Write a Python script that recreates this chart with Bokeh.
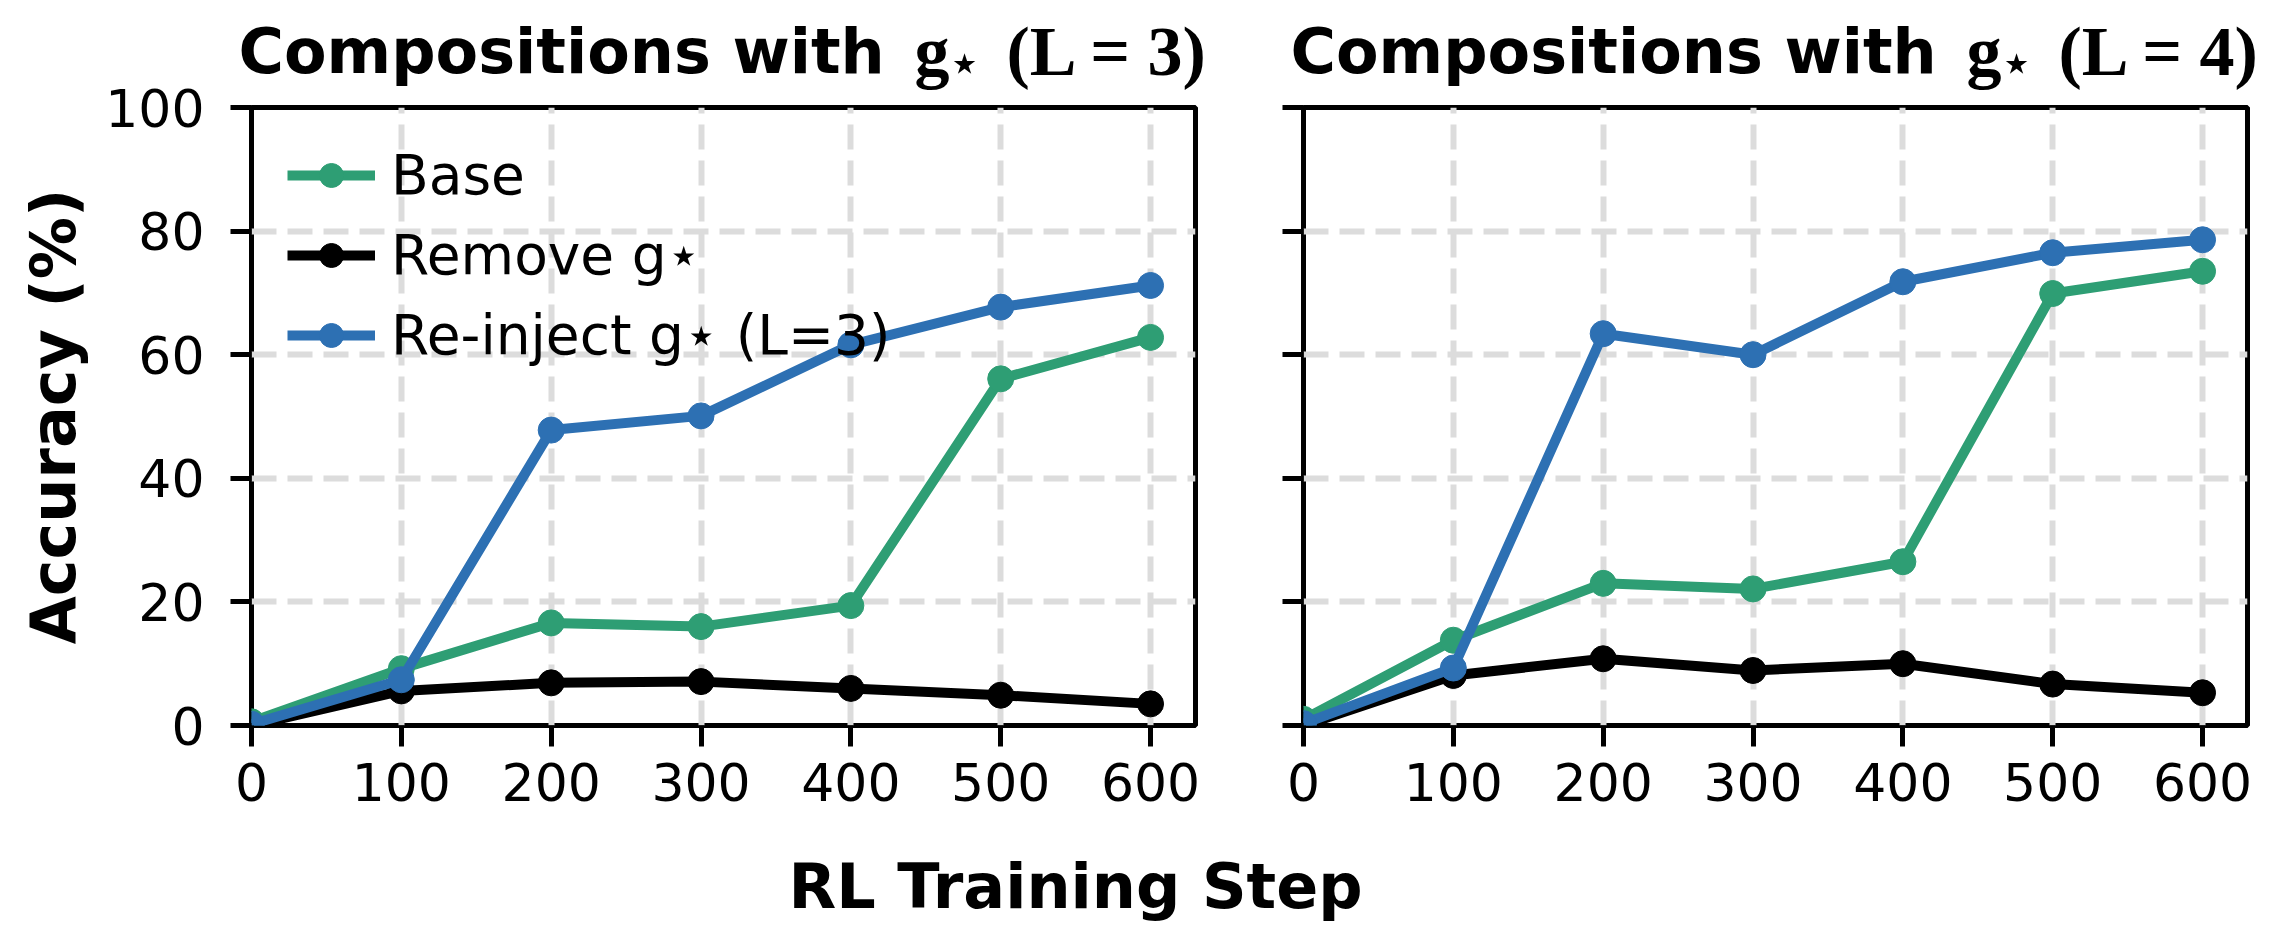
from bokeh.plotting import figure
from bokeh.models import Range1d, Label, Legend, LegendItem, FixedTicker
from bokeh.layouts import column, row
from bokeh.embed import file_html
from bokeh.resources import INLINE

# ---------------- data ----------------
steps = [0, 100, 200, 300, 400, 500, 600]
y_ticks = [0, 20, 40, 60, 80, 100]

base_l3 = [0.6, 9.2, 16.6, 16.0, 19.4, 56.1, 62.8]
remove_l3 = [0.0, 5.6, 6.9, 7.1, 6.0, 4.9, 3.5]
reinject_l3 = [0.2, 7.4, 47.8, 50.1, 61.6, 67.7, 71.2]

base_l4 = [1.0, 13.8, 23.0, 22.1, 26.5, 69.9, 73.5]
remove_l4 = [0.0, 8.1, 10.8, 8.9, 10.0, 6.7, 5.3]
reinject_l4 = [0.3, 9.3, 63.4, 60.0, 71.8, 76.5, 78.6]

series_labels = ["Base", "Remove g\u22c6", "Re-inject g\u22c6 (L=3)"]
panel_L = ["3", "4"]
x_label = "RL Training Step"
y_label = "Accuracy (%)"

GREEN = "#2e9e74"
BLACK = "#000000"
BLUE = "#2d70b3"

W = 2279
TOP_H = 100
OVERLAP = 30
FRAME_W = 944
FIG_H = 780
BOTTOM_H = 948 - TOP_H + OVERLAP - FIG_H


def make_panel(base, remove, reinject, left_border, right_border, first):
    p = figure(width=left_border + FRAME_W + right_border, height=FIG_H,
               x_range=Range1d(0, 630), y_range=Range1d(0, 100),
               output_backend="svg", toolbar_location=None,
               min_border_left=left_border, min_border_right=right_border,
               min_border_top=37, min_border_bottom=125)
    p.background_fill_color = "white"
    p.border_fill_alpha = 0
    p.outline_line_color = "black"
    p.outline_line_width = 5

    for ax in (p.xaxis[0], p.yaxis[0]):
        ax.axis_line_color = None
        ax.major_tick_out = 21
        ax.major_tick_in = 0
        ax.minor_tick_line_color = None
        ax.major_tick_line_width = 5
        ax.major_tick_line_color = "black"
        ax.major_label_text_font = "DejaVu Sans"
        ax.major_label_text_font_size = "52px"
        ax.major_label_text_color = "black"
    p.xaxis.ticker = FixedTicker(ticks=steps)
    p.yaxis.ticker = FixedTicker(ticks=y_ticks)
    p.xaxis.major_label_standoff = 16
    if first:
        p.yaxis.major_label_standoff = 26
        p.yaxis.axis_label = y_label
        p.yaxis.axis_label_text_font = "DejaVu Sans"
        p.yaxis.axis_label_text_font_style = "bold"
        p.yaxis.axis_label_text_font_size = "62px"
        p.yaxis.axis_label_text_color = "black"
        p.yaxis.axis_label_standoff = 12
    else:
        p.yaxis.major_label_overrides = {t: "" for t in y_ticks}
        p.yaxis.major_label_standoff = 0

    for g in (p.xgrid[0], p.ygrid[0]):
        g.grid_line_color = "#dcdcdc"
        g.grid_line_width = 6
        g.grid_line_dash = "25 11"

    items = []
    for lab, vals, col in zip(series_labels, (base, remove, reinject), (GREEN, BLACK, BLUE)):
        ln = p.line(steps, vals, line_width=10, line_color=col)
        sc = p.scatter(steps, vals, size=26, fill_color=col, line_color=col)
        items.append(LegendItem(label=lab, renderers=[ln, sc]))

    if first:
        leg = Legend(items=items, location="top_left")
        leg.border_line_color = None
        leg.background_fill_alpha = 0
        leg.label_text_font = "DejaVu Sans"
        leg.label_text_font_size = "55px"
        leg.label_text_color = "black"
        leg.glyph_width = 88
        leg.glyph_height = 60
        leg.label_height = 60
        leg.spacing = 16
        leg.label_standoff = 16
        leg.padding = 20
        leg.margin = 36
        p.add_layout(leg)
    return p


p1 = make_panel(base_l3, remove_l3, reinject_l3, 251, 54, True)
p2 = make_panel(base_l4, remove_l4, reinject_l4, 54, 32, False)

# ---- title strip (sans bold words + serif bold math part) ----
p0 = figure(width=W, height=TOP_H, x_range=Range1d(0, W), y_range=Range1d(0, TOP_H),
            output_backend="svg", toolbar_location=None, min_border=0,
            x_axis_type=None, y_axis_type=None)
p0.outline_line_color = None
p0.background_fill_color = "white"
p0.border_fill_color = "white"
p0.margin = (0, 0, -OVERLAP, 0)
for L, x0 in zip(panel_L, (238, 238 + 1052)):
    p0.add_layout(Label(x=x0, y=49, text="Compositions with",
                        text_font="DejaVu Sans", text_font_style="bold", text_font_size="62px",
                        text_color="black", text_align="left", text_baseline="alphabetic"))
    p0.add_layout(Label(x=x0 + 676, y=49, text="g",
                        text_font="Liberation Serif", text_font_style="bold", text_font_size="70px",
                        text_color="black", text_align="left", text_baseline="alphabetic"))
    p0.add_layout(Label(x=x0 + 708, y=38, text="\u22c6",
                        text_font="DejaVu Serif", text_font_size="56px",
                        text_color="black", text_align="left", text_baseline="alphabetic"))
    p0.add_layout(Label(x=x0 + 768, y=49, text="(L = %s)" % L,
                        text_font="Liberation Serif", text_font_style="bold", text_font_size="70px",
                        text_color="black", text_align="left", text_baseline="alphabetic"))

# ---- x label strip ----
p3 = figure(width=W, height=BOTTOM_H, x_range=Range1d(0, W), y_range=Range1d(0, BOTTOM_H),
            output_backend="svg", toolbar_location=None, min_border=0,
            x_axis_type=None, y_axis_type=None)
p3.outline_line_color = None
p3.background_fill_color = "white"
p3.border_fill_color = "white"
p3.add_layout(Label(x=1075, y=62, text=x_label, text_font="DejaVu Sans", text_font_style="bold",
                    text_font_size="62px", text_color="black", text_align="center",
                    text_baseline="alphabetic"))

layout = column(p0, row(p1, p2), p3)
open("out.html", "w").write(file_html(layout, INLINE))
